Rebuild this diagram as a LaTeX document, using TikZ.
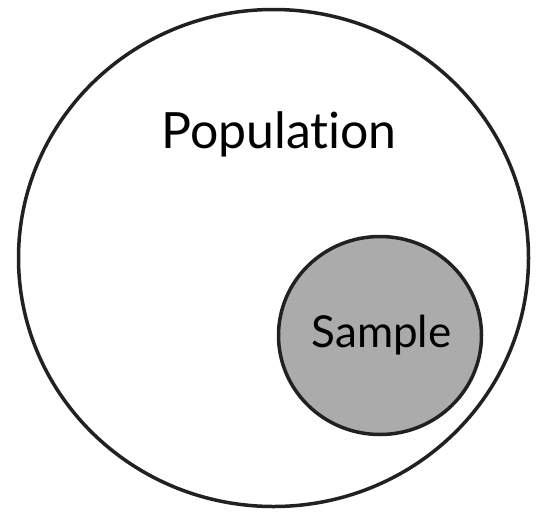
\documentclass[tikz,border=0pt]{standalone}
\usepackage{fontspec}
\setmainfont{Lato}[RawFeature={-liga}]
\usetikzlibrary{shapes.geometric}
\begin{document}
\begin{tikzpicture}[x=1pt,y=-1pt,
  ring/.style={draw=black!87,line width=3.5pt},
  lbl/.style={inner sep=0pt,anchor=base,text=black}]
\useasboundingbox (0,0) rectangle (546,512);
\node[ring,ellipse,minimum width=510pt,minimum height=497pt,inner sep=0pt] (pop) at (273.5,258) {};
\node[ring,ellipse,fill=black!33,minimum width=203pt,minimum height=198pt,inner sep=0pt] (samp) at (380,335.5) {};
\node[lbl,font=\fontsize{50}{52}\selectfont] (poplbl) at (279,148) {Population};
\node[lbl,font=\fontsize{44}{46}\selectfont] (samplbl) at (381.5,347) {Sample};
\end{tikzpicture}
\end{document}
